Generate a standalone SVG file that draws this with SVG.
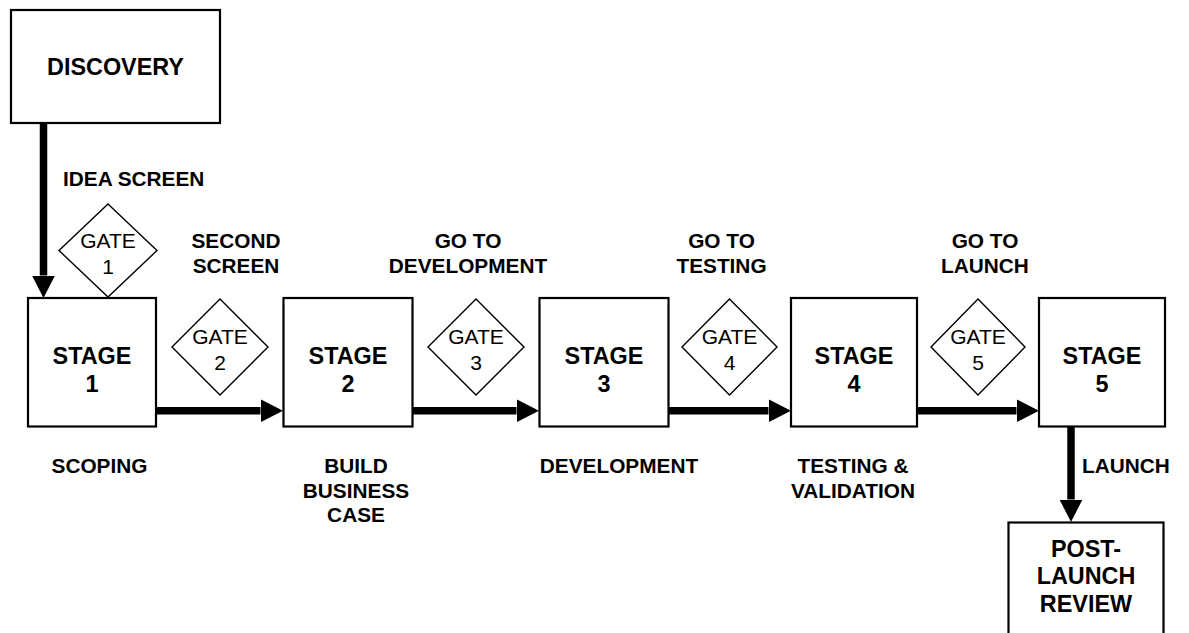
<svg xmlns="http://www.w3.org/2000/svg" width="1189" height="633" viewBox="0 0 1189 633">
  <style>
    .box { fill: #fff; stroke: #000; stroke-width: 2.2; }
    .gate { fill: #fff; stroke: #000; stroke-width: 1.4; }
    .conn { stroke: #000; stroke-width: 7.5; fill: none; }
    .node { font-family: "Liberation Sans", Arial, sans-serif; font-weight: bold; font-size: 23.4px; text-anchor: middle; fill: #000; }
    .gt { font-family: "Liberation Sans", Arial, sans-serif; font-size: 21px; text-anchor: middle; fill: #000; }
    .lbl { font-family: "Liberation Sans", Arial, sans-serif; font-weight: bold; font-size: 20.8px; text-anchor: middle; fill: #000; }
  </style>
  <defs>
    <marker id="ah" markerUnits="userSpaceOnUse" markerWidth="23" markerHeight="24" refX="0" refY="12" orient="auto">
      <path d="M0,0.5 L22.5,12 L0,23.5 z" fill="#000"/>
    </marker>
  </defs>
  <rect width="1189" height="633" fill="#fff"/>

  <g id="connectors">
    <line class="conn" x1="43.5" y1="123" x2="43.5" y2="275.5" marker-end="url(#ah)"/>
    <line class="conn" x1="156" y1="410.7" x2="260.5" y2="410.7" marker-end="url(#ah)"/>
    <line class="conn" x1="412.5" y1="410.7" x2="516.5" y2="410.7" marker-end="url(#ah)"/>
    <line class="conn" x1="668" y1="410.7" x2="768.5" y2="410.7" marker-end="url(#ah)"/>
    <line class="conn" x1="917" y1="410.7" x2="1016.5" y2="410.7" marker-end="url(#ah)"/>
    <line class="conn" x1="1071" y1="427" x2="1071" y2="499.5" marker-end="url(#ah)"/>
  </g>

  <g id="discovery">
    <rect class="box" x="11" y="10" width="209" height="113"/>
    <text class="node" x="115.5" y="75">DISCOVERY</text>
  </g>

  <g id="label-idea-screen">
    <text class="lbl" x="63" y="185.5" style="text-anchor:start">IDEA SCREEN</text>
  </g>

  <g id="gate1">
    <polygon class="gate" points="108,204 157,250.5 108,297 59,250.5"/>
    <text class="gt" x="108" y="248">GATE</text>
    <text class="gt" x="108" y="274">1</text>
  </g>

  <g id="stage1">
    <rect class="box" x="28" y="298" width="128" height="128.5"/>
    <text class="node" x="92" y="363.5">STAGE</text>
    <text class="node" x="92" y="391.5">1</text>
  </g>
  <g id="label-scoping">
    <text class="lbl" x="99.5" y="473">SCOPING</text>
  </g>

  <g id="label-second-screen">
    <text class="lbl" x="236" y="248">SECOND</text>
    <text class="lbl" x="236" y="273">SCREEN</text>
  </g>
  <g id="gate2">
    <polygon class="gate" points="220,299 268,347 220,395 172,347"/>
    <text class="gt" x="220" y="344">GATE</text>
    <text class="gt" x="220" y="370">2</text>
  </g>

  <g id="stage2">
    <rect class="box" x="283.5" y="298" width="129" height="128.5"/>
    <text class="node" x="348" y="363.5">STAGE</text>
    <text class="node" x="348" y="391.5">2</text>
  </g>
  <g id="label-build">
    <text class="lbl" x="356" y="473">BUILD</text>
    <text class="lbl" x="356" y="497.5">BUSINESS</text>
    <text class="lbl" x="356" y="522">CASE</text>
  </g>

  <g id="label-go-dev">
    <text class="lbl" x="468" y="248">GO TO</text>
    <text class="lbl" x="468" y="273">DEVELOPMENT</text>
  </g>
  <g id="gate3">
    <polygon class="gate" points="476,299 524,347 476,395 428,347"/>
    <text class="gt" x="476" y="344">GATE</text>
    <text class="gt" x="476" y="370">3</text>
  </g>

  <g id="stage3">
    <rect class="box" x="539.5" y="298" width="129" height="128.5"/>
    <text class="node" x="604" y="363.5">STAGE</text>
    <text class="node" x="604" y="391.5">3</text>
  </g>
  <g id="label-development">
    <text class="lbl" x="619" y="473">DEVELOPMENT</text>
  </g>

  <g id="label-go-testing">
    <text class="lbl" x="721.5" y="248">GO TO</text>
    <text class="lbl" x="721.5" y="273">TESTING</text>
  </g>
  <g id="gate4">
    <polygon class="gate" points="729.5,299 777,347 729.5,395 682,347"/>
    <text class="gt" x="729.5" y="344">GATE</text>
    <text class="gt" x="729.5" y="370">4</text>
  </g>

  <g id="stage4">
    <rect class="box" x="791" y="298" width="126" height="128.5"/>
    <text class="node" x="854" y="363.5">STAGE</text>
    <text class="node" x="854" y="391.5">4</text>
  </g>
  <g id="label-testing">
    <text class="lbl" x="853" y="473">TESTING &amp;</text>
    <text class="lbl" x="853" y="497.5">VALIDATION</text>
  </g>

  <g id="label-go-launch">
    <text class="lbl" x="985" y="248">GO TO</text>
    <text class="lbl" x="985" y="273">LAUNCH</text>
  </g>
  <g id="gate5">
    <polygon class="gate" points="978,299 1025,347 978,395 931,347"/>
    <text class="gt" x="978" y="344">GATE</text>
    <text class="gt" x="978" y="370">5</text>
  </g>

  <g id="stage5">
    <rect class="box" x="1039" y="298" width="126" height="128.5"/>
    <text class="node" x="1102" y="363.5">STAGE</text>
    <text class="node" x="1102" y="391.5">5</text>
  </g>
  <g id="label-launch">
    <text class="lbl" x="1082" y="473" style="text-anchor:start">LAUNCH</text>
  </g>

  <g id="post-launch">
    <rect class="box" x="1008.5" y="522.5" width="155" height="130"/>
    <text class="node" x="1086" y="556.5">POST-</text>
    <text class="node" x="1086" y="584">LAUNCH</text>
    <text class="node" x="1086" y="611.5">REVIEW</text>
  </g>
</svg>
